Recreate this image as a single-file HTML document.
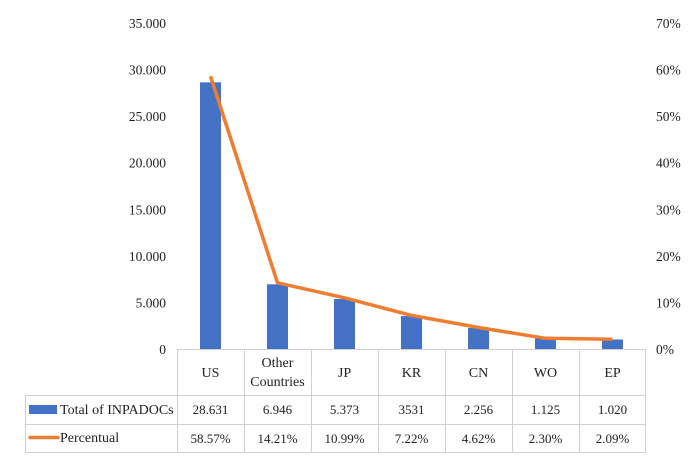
<!DOCTYPE html>
<html><head><style>
html,body{margin:0;padding:0;background:#fff;}
svg{display:block;font-family:"Liberation Serif",serif;}
</style></head><body>
<svg width="700" height="460" viewBox="0 0 700 460" xmlns="http://www.w3.org/2000/svg">
<g font-size="13.5" fill="#222" text-anchor="end">
<text x="166" y="354">0</text>
<text x="166" y="307.4">5.000</text>
<text x="166" y="260.9">10.000</text>
<text x="166" y="214.3">15.000</text>
<text x="166" y="167.7">20.000</text>
<text x="166" y="121.1">25.000</text>
<text x="166" y="74.6">30.000</text>
<text x="166" y="28">35.000</text>
</g>
<g font-size="13.5" fill="#222" text-anchor="start">
<text x="656" y="354">0%</text>
<text x="656" y="307.4">10%</text>
<text x="656" y="260.9">20%</text>
<text x="656" y="214.3">30%</text>
<text x="656" y="167.7">40%</text>
<text x="656" y="121.1">50%</text>
<text x="656" y="74.6">60%</text>
<text x="656" y="28">70%</text>
</g>
<g fill="#4472C4">
<rect x="200" y="82.3" width="21" height="266.7"/>
<rect x="267" y="284.3" width="21" height="64.7"/>
<rect x="334" y="299" width="21" height="50"/>
<rect x="401" y="316.1" width="21" height="32.9"/>
<rect x="468" y="328" width="21" height="21"/>
<rect x="535" y="338.5" width="21" height="10.5"/>
<rect x="602" y="339.5" width="21" height="9.5"/>
</g>
<polyline fill="none" stroke="#ED7D31" stroke-width="3.5" stroke-linejoin="round" points="210.5,76.2 277.5,282.8 344.5,297.8 411.5,315.4 478.5,327.5 545.5,338.3 612.5,339.3"/>
<g stroke="#d0d0d0" stroke-width="1" fill="none">
<line x1="177" y1="349.5" x2="646" y2="349.5"/>
<line x1="25" y1="395.5" x2="646" y2="395.5"/>
<line x1="25" y1="424.5" x2="646" y2="424.5"/>
<line x1="25" y1="452.5" x2="646" y2="452.5"/>
<line x1="25.5" y1="395" x2="25.5" y2="453"/>
<line x1="177.5" y1="349" x2="177.5" y2="453"/>
<line x1="244.5" y1="349" x2="244.5" y2="453"/>
<line x1="311.5" y1="349" x2="311.5" y2="453"/>
<line x1="378.5" y1="349" x2="378.5" y2="453"/>
<line x1="445.5" y1="349" x2="445.5" y2="453"/>
<line x1="512.5" y1="349" x2="512.5" y2="453"/>
<line x1="579.5" y1="349" x2="579.5" y2="453"/>
<line x1="645.5" y1="349" x2="645.5" y2="453"/>
</g>
<g font-size="14" fill="#222" text-anchor="middle">
<text x="210.5" y="377">US</text>
<text x="277.5" y="367">Other</text>
<text x="277.5" y="386">Countries</text>
<text x="344.5" y="377">JP</text>
<text x="411.5" y="377">KR</text>
<text x="478.5" y="377">CN</text>
<text x="545.5" y="377">WO</text>
<text x="612.5" y="377">EP</text>
</g>
<g font-size="13" fill="#222" text-anchor="middle">
<text x="210.5" y="414">28.631</text>
<text x="277.5" y="414">6.946</text>
<text x="344.5" y="414">5.373</text>
<text x="411.5" y="414">3531</text>
<text x="478.5" y="414">2.256</text>
<text x="545.5" y="414">1.125</text>
<text x="612.5" y="414">1.020</text>
<text x="210.5" y="443">58.57%</text>
<text x="277.5" y="443">14.21%</text>
<text x="344.5" y="443">10.99%</text>
<text x="411.5" y="443">7.22%</text>
<text x="478.5" y="443">4.62%</text>
<text x="545.5" y="443">2.30%</text>
<text x="612.5" y="443">2.09%</text>
</g>
<rect x="29" y="405" width="28" height="9" fill="#4472C4"/>
<line x1="30" y1="437.5" x2="58" y2="437.5" stroke="#ED7D31" stroke-width="3.5" stroke-linecap="round"/>
<g font-size="14" fill="#222">
<text x="60" y="414">Total of INPADOCs</text>
<text x="60" y="442">Percentual</text>
</g>
</svg>
</body></html>
